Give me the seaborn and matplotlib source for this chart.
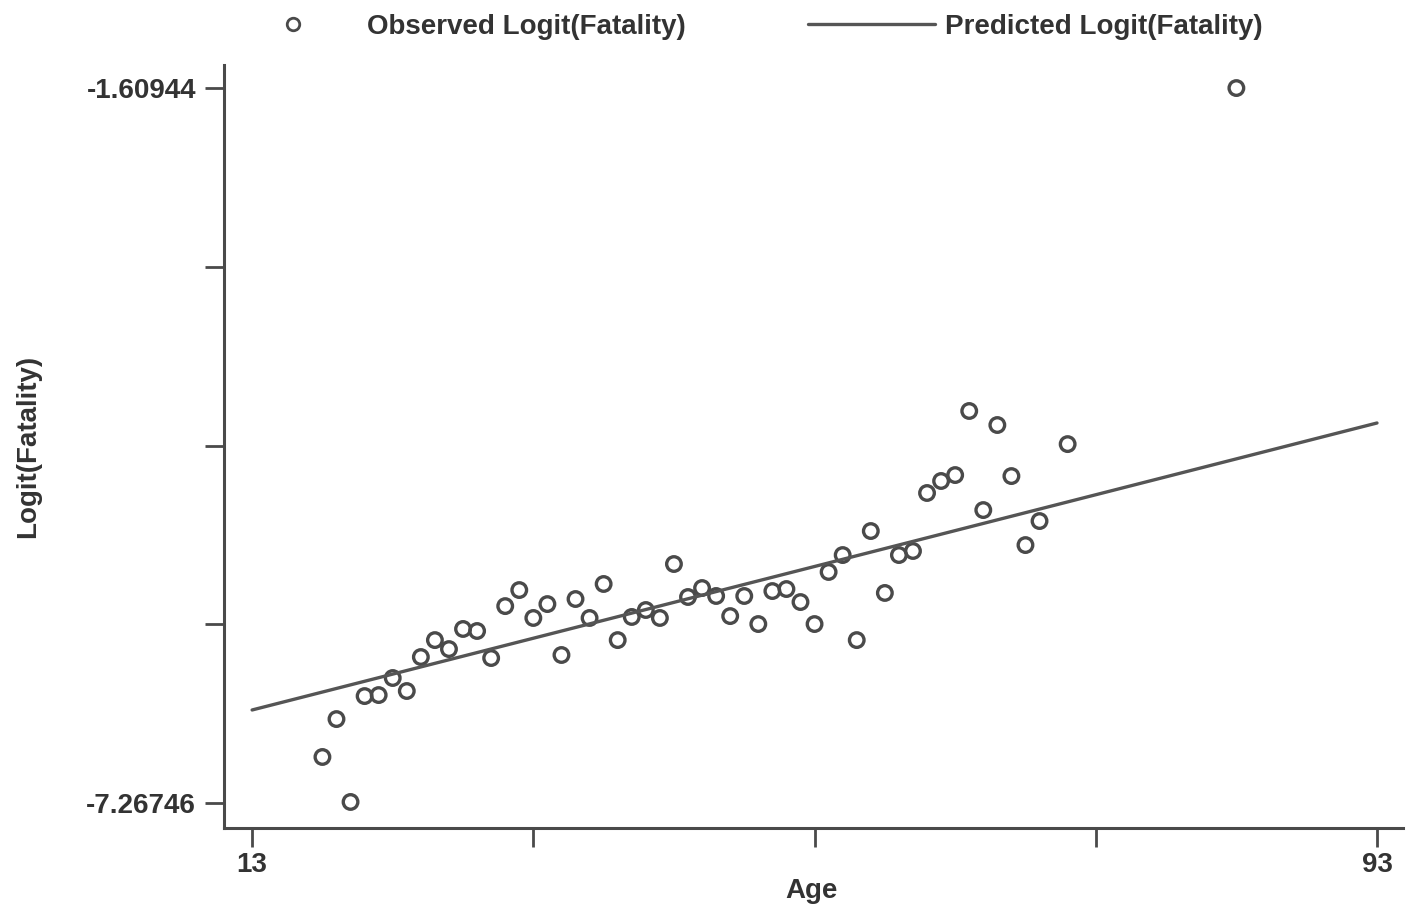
import pandas as pd
import seaborn as sns
import matplotlib
matplotlib.use('Agg')
import matplotlib.pyplot as plt
from matplotlib.lines import Line2D

# observed logit(fatality) by age
ages = [18, 19, 20, 21, 22, 23, 24, 25, 26, 27, 28, 29, 30, 31, 32, 33, 34, 35,
        36, 37, 38, 39, 40, 41, 42, 43, 44, 45, 46, 47, 48, 49, 50, 51, 52, 53,
        54, 55, 56, 57, 58, 59, 60, 61, 62, 63, 64, 65, 66, 67, 68, 69, 71, 83]
observed = [-6.903, -6.603, -7.259, -6.421, -6.413, -6.278, -6.381, -6.112, -5.978,
            -6.049, -5.890, -5.906, -6.120, -5.709, -5.582, -5.803, -5.693, -6.096,
            -5.653, -5.803, -5.534, -5.978, -5.795, -5.740, -5.803, -5.376, -5.637,
            -5.566, -5.629, -5.788, -5.629, -5.851, -5.590, -5.574, -5.677, -5.851,
            -5.439, -5.305, -5.978, -5.115, -5.605, -5.305, -5.273, -4.814, -4.719,
            -4.672, -4.165, -4.949, -4.276, -4.680, -5.226, -5.036, -4.427, -1.60944]

# predicted line end points
pred_ages = [13, 93]
predicted = [-6.531, -4.260]

y_ticks = [-7.26746, -5.85296, -4.43845, -3.02395, -1.60944]
y_labels = ['-7.26746', '', '', '', '-1.60944']
x_ticks = [13, 33, 53, 73, 93]
x_labels = ['13', '', '', '', '93']

obs = pd.DataFrame({'Age': ages, 'Logit': observed})
pred = pd.DataFrame({'Age': pred_ages, 'Logit': predicted})

sns.set_style('ticks')
plt.rcParams['font.family'] = ['Liberation Sans', 'DejaVu Sans']
plt.rcParams['font.weight'] = 'bold'

grey = '#4a4a4a'
txt = '#333333'
fig = plt.figure(figsize=(14.08, 9.09), dpi=100)
ax = fig.add_axes([224 / 1408, 1 - 828 / 909, (1403 - 224) / 1408, (828 - 65) / 909])

sns.lineplot(data=pred, x='Age', y='Logit', ax=ax, color='#555555', linewidth=2.4)
sns.scatterplot(data=obs, x='Age', y='Logit', ax=ax, marker='o', s=110,
                facecolor='none', edgecolor=grey, linewidth=2.4)

ax.set_xlim(11.0, 94.85)
ax.set_ylim(-7.465, -1.427)
ax.set_xticks(x_ticks)
ax.set_xticklabels(x_labels)
ax.set_yticks(y_ticks)
ax.set_yticklabels(y_labels)
ax.tick_params(length=14, width=2, color=grey, labelsize=20, labelcolor=txt)
ax.tick_params(axis='x', pad=3)
ax.tick_params(axis='y', pad=6)
for s in ['top', 'right']:
    ax.spines[s].set_visible(False)
for s in ['left', 'bottom']:
    ax.spines[s].set_color(grey)
    ax.spines[s].set_linewidth(2.2)

ax.set_xlabel('Age', fontsize=20, fontweight='bold', color=txt)
ax.set_ylabel('Logit(Fatality)', fontsize=20, fontweight='bold', color=txt)
ax.xaxis.set_label_coords(0.498, -0.066)
ax.yaxis.set_label_coords(-0.155, 0.5)

handles = [Line2D([], [], linestyle='none', marker='o', markersize=9, markerfacecolor='none',
                  markeredgecolor=grey, markeredgewidth=2),
           Line2D([], [], color='#555555', linewidth=2.4)]
fig.legend(handles, ['Observed Logit(Fatality)', 'Predicted Logit(Fatality)'],
           loc='center', bbox_to_anchor=(746 / 1408, 1 - 27 / 909), ncol=2, frameon=False,
           fontsize=20, handlelength=4.6, handletextpad=0.35, columnspacing=4.4,
           labelcolor=txt)

fig.savefig('out.png', dpi=100)
